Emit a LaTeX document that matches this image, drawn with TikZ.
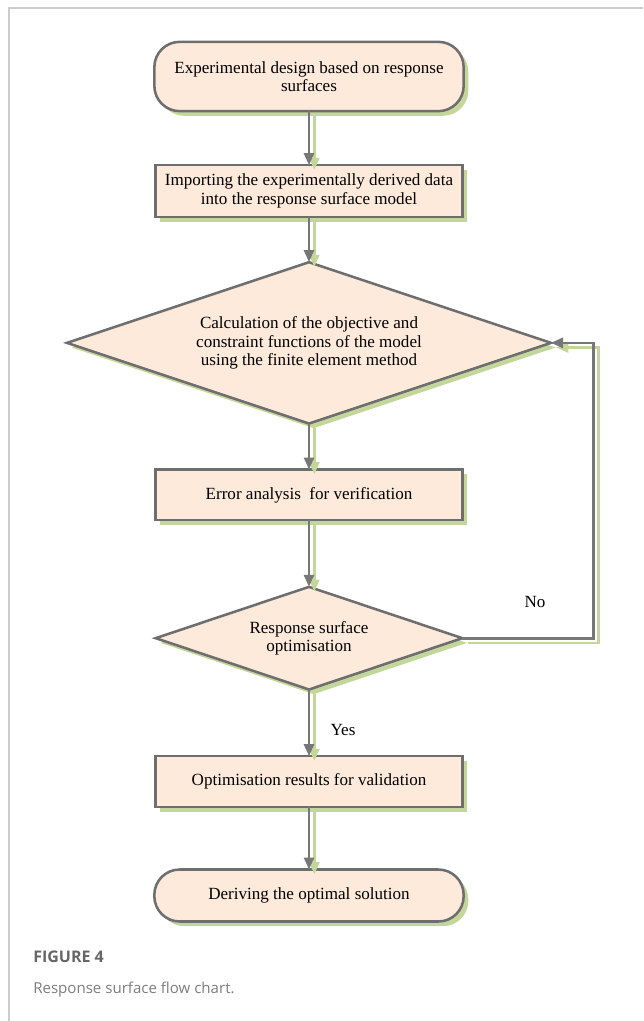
\documentclass[tikz,border=0pt]{standalone}
\usepackage{fontspec}
\setmainfont{Liberation Serif}
\newfontfamily\capfont{Open Sans}
\usetikzlibrary{shapes.geometric, arrows.meta, positioning, shadows}
\definecolor{boxfill}{HTML}{FDEADA}
\definecolor{boxdraw}{HTML}{6E6E6E}
\definecolor{shadowgreen}{HTML}{C4D79B}
\definecolor{linegray}{HTML}{777777}
\definecolor{framegray}{HTML}{CCCCCC}
\definecolor{capgray}{HTML}{666666}
\tikzset{
	basebox/.style={draw=boxdraw, line width=1.9pt, fill=boxfill,
		font=\fontsize{12.8}{14}\selectfont, align=center, inner sep=0pt,
		outer sep=0pt,
		drop shadow={shadow xshift=3.5pt, shadow yshift=-3.5pt,
			fill=shadowgreen, opacity=1}},
	terminal/.style={basebox, rectangle, rounded corners=19pt,
		minimum width=232pt},
	process/.style={basebox, rectangle, minimum width=230pt,
		minimum height=38pt},
	decision/.style={basebox, diamond, aspect=3},
	myarrow/.style={-{Triangle[width=7.5pt, length=9pt]}, line width=2pt,
		draw=linegray},
	shadowarrow/.style={myarrow, draw=shadowgreen},
	tag/.style={font=\fontsize{12.8}{14}\selectfont}
}
\begin{document}
\begin{tikzpicture}[x=0.75pt, y=-0.75pt]
	\useasboundingbox (0,0) rectangle (643,1021);
	
	%% page frame
	\draw[framegray, line width=1.5pt] (9,1021) |- (643,7.5);
	
	%% flow chart boxes
	\node[terminal, minimum height=52pt] (start) at (309,76.5)
	{Experimental design based on response\\surfaces};
	\node[process, minimum height=39pt, below=40.5pt of start] (import)
	{Importing the experimentally derived data\\into the response surface model};
	\node[decision, minimum width=363pt, minimum height=121pt,
	below=33.75pt of import] (calc)
	{Calculation of the objective and\\constraint functions of the model\\using the finite element method};
	\node[process, below=34.5pt of calc] (error)
	{Error analysis\enspace for verification};
	\node[decision, minimum width=230pt, minimum height=77pt,
	below=50pt of error] (optim)
	{Response surface\\optimisation};
	\node[process, below=50pt of optim] (result)
	{Optimisation results for validation};
	\node[terminal, minimum height=39pt, below=47pt of result] (final)
	{Deriving the optimal solution};
	
	%% labels
	\node[tag] (no) at (535,602) {No};
	\node[tag] (yes) at (343,730) {Yes};
	
	%% arrow shadows
	\begin{scope}[transform canvas={xshift=4pt, yshift=-3.5pt}]
		\draw[shadowarrow] (start) -- (import);
		\draw[shadowarrow] (import) -- (calc);
		\draw[shadowarrow] (calc) -- (error);
		\draw[shadowarrow] (error) -- (optim);
		\draw[shadowarrow] (optim) -- (result);
		\draw[shadowarrow] (result) -- (final);
		\draw[shadowarrow] (optim.east) -- ++(131,0) |- (calc.east);
	\end{scope}
	
	%% arrows
	\draw[myarrow] (start) -- (import);
	\draw[myarrow] (import) -- (calc);
	\draw[myarrow] (calc) -- (error);
	\draw[myarrow] (error) -- (optim);
	\draw[myarrow] (optim) -- (result);
	\draw[myarrow] (result) -- (final);
	\draw[myarrow] (optim.east) -- ++(131,0) |- (calc.east);
	
	%% caption
	\node[anchor=west, inner sep=0pt, text=capgray,
	font=\capfont\bfseries\fontsize{12}{14}\selectfont] (fig) at (33,957)
	{FIGURE 4};
	\node[anchor=west, inner sep=0pt, text=capgray!85,
	font=\capfont\fontsize{11.3}{13}\selectfont] (cap) at (33,990)
	{Response surface flow chart.};
	
\end{tikzpicture}
\end{document}
